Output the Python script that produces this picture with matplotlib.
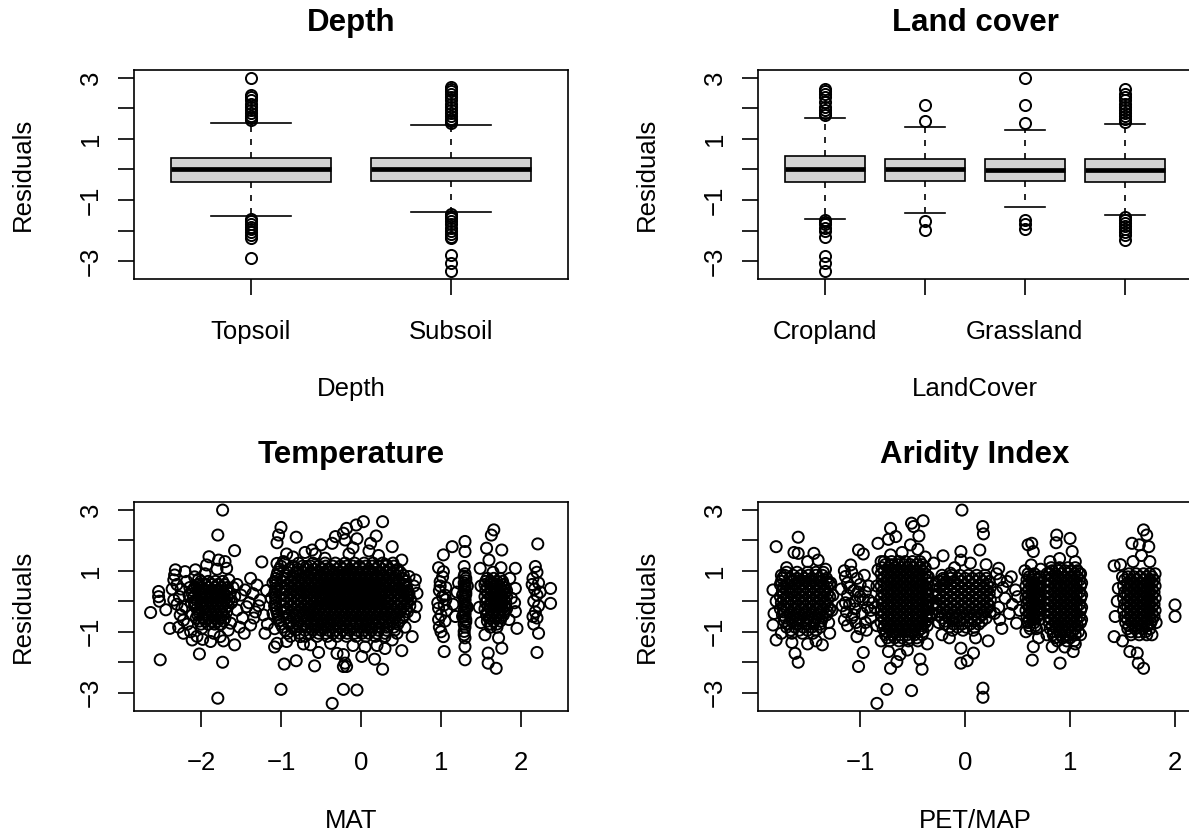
import matplotlib
matplotlib.use("Agg")
import matplotlib.pyplot as plt

plt.rcParams['font.family'] = ['Liberation Sans', 'DejaVu Sans']

# ---- boxplot summaries ----
depth_groups = ['Topsoil', 'Subsoil']
depth_q1 = [-0.40, -0.39]
depth_med = [0.01, 0.01]
depth_q3 = [0.37, 0.36]
depth_whislo = [-1.51, -1.40]
depth_whishi = [1.51, 1.44]
depth_fliers = [
    [2.97, 2.42, 2.35, 2.25, 2.15, 2.05, 1.95, 1.85, 1.75, 1.68, 1.62,
     -1.62, -1.70, -1.78, -1.87, -1.95, -2.05, -2.15, -2.25, -2.90],
    [2.69, 2.62, 2.55, 2.45, 2.35, 2.25, 2.15, 2.05, 1.95, 1.85, 1.75, 1.65, 1.58, 1.52,
     -1.45, -1.52, -1.60, -1.70, -1.80, -1.90, -2.00, -2.10, -2.20, -2.25, -2.79, -3.07, -3.31],
]

land_groups = ['Cropland', '', 'Grassland', '']
land_q1 = [-0.41, -0.37, -0.37, -0.41]
land_med = [0.00, 0.02, -0.03, -0.02]
land_q3 = [0.44, 0.35, 0.34, 0.34]
land_whislo = [-1.63, -1.41, -1.22, -1.50]
land_whishi = [1.67, 1.39, 1.28, 1.47]
land_fliers = [
    [2.64, 2.55, 2.45, 2.35, 2.20, 2.05, 1.95, 1.85, 1.77,
     -1.65, -1.72, -1.80, -1.90, -2.00, -2.20, -2.83, -3.07, -3.32],
    [2.10, 1.57, -1.69, -1.98],
    [2.97, 2.10, 1.50, -1.65, -1.80, -1.95],
    [2.64, 2.45, 2.35, 2.25, 2.15, 2.05, 1.95, 1.85, 1.75, 1.65, 1.55,
     -1.55, -1.65, -1.75, -1.85, -1.95, -2.05, -2.15, -2.30],
]

# ---- residuals vs MAT (scattered points, then dense cores as rows) ----
mat_points = [
    (-2.63, -0.37), (-2.53, 0.32), (-2.53, 0.15), (-2.52, 0.0), (-2.44, -0.28), (-2.39, -0.89),
    (-2.51, -1.92), (-2.32, 1.03), (-2.34, 0.70), (-2.33, 0.86), (-2.30, 0.55), (-2.36, 0.40),
    (-2.34, 0.04), (-2.30, -0.10), (-2.26, -0.45), (-2.22, -0.62), (-2.22, -1.05), (-2.13, -1.00),
    (-2.11, -1.27), (-2.20, 0.97), (-2.07, 1.03), (-2.05, 0.53), (-2.20, -0.18), (-2.11, -0.45),
    (-1.90, 1.46), (-1.93, 1.19), (-1.78, 1.35), (-1.70, 1.30), (-1.68, 1.08), (-1.80, 1.05),
    (-1.58, 1.66), (-1.99, -0.89), (-1.88, -1.32), (-1.76, -1.16), (-1.84, -1.05), (-1.63, -0.72),
    (-1.65, 0.70), (-1.55, -0.29), (-1.45, 0.37), (-1.43, -0.18), (-1.38, -0.78), (-1.30, 0.53),
    (-1.26, 0.04), (-1.22, -0.45), (-1.20, -1.05), (-1.24, 1.29), (-2.02, -1.73), (-1.73, -2.00),
    (-1.79, -3.18), (-1.58, -1.43), (-1.73, 2.99), (-1.79, 2.17), (-1.50, 0.20), (-1.40, -0.05),
    (-1.35, 0.25), (-1.48, -0.55), (-1.32, -0.35), (-1.60, 0.45), (-1.62, -0.05), (-1.58, 0.15),
    (-2.15, 0.20), (-2.25, 0.40), (-2.18, 0.65), (-2.08, 0.80), (-2.28, -0.85), (-2.05, -1.15),
    (-1.95, 0.90), (-1.98, -1.25), (-1.72, -1.30), (-1.66, -0.95), (-2.27, 0.15), (-2.24, -0.25),
    (-2.17, -0.75), (-2.14, 0.45), (-2.12, -0.05), (-2.03, 0.72), (-1.55, 0.55), (-1.52, -0.85),
    (-1.46, -1.05), (-1.38, 0.75), (-1.34, -0.55), (-1.28, -0.15), (-1.18, 0.35), (-1.17, -0.75),
    (-1.05, 1.24), (-0.97, 1.30), (-1.00, 2.42), (-1.03, 2.17), (-1.05, 1.92), (-0.81, 2.10),
    (-0.80, 0.97), (-0.68, 1.14), (-0.61, 1.68), (-0.57, 1.55), (-0.45, 1.41), (-0.36, 1.90),
    (-0.32, 2.12), (-0.22, 2.23), (-0.18, 2.39), (-0.20, 2.01), (-0.06, 2.50), (0.03, 2.61),
    (0.27, 2.61), (0.19, 2.14), (0.39, 1.79), (0.51, 1.35), (0.32, 1.19), (0.60, 0.81),
    (0.68, 0.70), (0.66, 0.50), (0.70, 0.26), (0.69, -0.18), (0.67, -0.50), (0.64, -1.16),
    (0.51, -1.62), (0.39, -1.27), (0.27, -2.23), (0.17, -1.90), (0.01, -1.81), (-0.18, -2.14),
    (-0.22, -1.75), (-0.22, -2.89), (-0.05, -2.91), (-0.36, -3.35), (-0.22, -2.14), (-0.53, -1.68),
    (-0.58, -2.12), (-0.81, -1.95), (-0.96, -2.06), (-1.00, -2.89), (-1.05, -1.38), (-1.08, -1.50),
    (-0.93, -1.32), (-0.76, -1.16), (-0.72, -1.40), (-0.63, -1.43), (-0.38, -1.38), (-0.30, -1.71),
    (-0.20, -2.03), (-1.10, 0.60), (-1.12, 0.10), (-1.10, -0.40), (-1.08, -0.90), (-0.93, 1.55),
    (-0.85, 1.45), (-0.10, 1.75), (0.10, 1.65), (0.22, 1.50), (0.45, 1.00), (0.55, -0.85),
    (0.45, -1.05), (0.20, -1.45), (0.05, -1.50), (-0.10, -1.45), (0.30, -1.55), (0.58, 0.25),
    (0.55, 0.55), (-0.50, 1.85), (-0.05, 2.05), (0.12, 1.90), (-0.15, 1.55), (-0.70, 1.60),
    (1.03, 1.52), (1.14, 1.79), (1.03, 0.97), (0.99, 0.64), (0.97, -0.23), (1.03, -1.16),
    (1.04, -1.65), (0.98, 0.35), (1.02, 0.15), (0.96, -0.05), (1.00, -0.45), (1.05, -0.65),
    (0.98, -0.85), (1.02, 0.80), (1.06, 0.45), (1.00, -1.00), (1.05, 0.20), (0.97, 1.10),
    (1.07, -0.30), (1.30, 1.96), (1.30, 1.63), (1.29, 1.14), (1.30, -1.49), (1.30, -1.92),
    (1.29, -0.99), (1.30, 0.90), (1.31, 0.75), (1.29, 0.60), (1.30, 0.45), (1.31, 0.30),
    (1.29, 0.15), (1.30, 0.00), (1.31, -0.15), (1.29, -0.30), (1.30, -0.45), (1.31, -0.60),
    (1.29, -0.75), (1.30, -1.20), (1.27, 0.20), (1.33, -0.20), (1.27, -0.50), (1.33, 0.50),
    (1.20, 0.30), (1.15, -0.10), (1.18, -0.50), (1.22, 0.60), (1.29, 0.82), (1.31, 0.67),
    (1.30, 0.52), (1.29, 0.37), (1.31, 0.22), (1.30, 0.07), (1.29, -0.08), (1.31, -0.23),
    (1.30, -0.38), (1.29, -0.52), (1.31, -0.68), (1.30, -0.85), (1.29, -1.10), (0.99, 0.50),
    (1.04, -0.12), (0.97, -0.60), (1.06, 0.05),
    (1.66, 2.34), (1.63, 2.17), (1.76, 1.68), (1.57, 1.74), (1.60, 1.35), (1.49, 1.08),
    (1.93, 1.08), (1.59, -1.70), (1.59, -2.03), (1.69, -2.20), (1.76, -1.54), (1.95, -0.89),
    (1.93, 0.42), (1.93, -0.34), (1.50, 0.50), (1.48, -0.20), (1.50, -0.70), (1.55, -1.10),
    (1.72, -1.20), (1.85, -0.60), (1.88, 0.10), (1.86, 0.75), (1.75, 1.10), (1.65, 0.95),
    (1.92, -0.05),
    (2.21, 1.88), (2.18, 1.14), (2.20, 0.95), (2.15, 0.75), (2.22, 0.60), (2.17, 0.40),
    (2.20, 0.20), (2.16, 0.00), (2.22, -0.15), (2.18, -0.35), (2.20, -0.55), (2.16, -0.75),
    (2.22, -1.05), (2.20, -1.68), (2.37, 0.42), (2.37, -0.07), (2.14, 0.55), (2.24, 0.30),
    (2.15, -0.50),
]
mat_core_rows = [
    (0.65, [-2.0, -1.91, -1.82, -1.73]),
    (0.55, [-2.03, -1.95, -1.86, -1.79, -1.71]),
    (0.45, [-2.08, -1.99, -1.9, -1.83, -1.75, -1.67]),
    (0.35, [-2.1, -2.04, -1.97, -1.9, -1.82, -1.75, -1.68]),
    (0.25, [-2.11, -2.02, -1.94, -1.86, -1.79, -1.71, -1.64]),
    (0.15, [-2.09, -2.01, -1.93, -1.87, -1.8, -1.74, -1.67]),
    (0.05, [-2.06, -1.97, -1.9, -1.84, -1.77, -1.7, -1.65]),
    (-0.05, [-2.08, -2.0, -1.93, -1.87, -1.8, -1.74, -1.68]),
    (-0.15, [-2.08, -1.99, -1.92, -1.85, -1.79, -1.73, -1.66]),
    (-0.25, [-2.05, -1.96, -1.9, -1.83, -1.77, -1.7]),
    (-0.35, [-2.03, -1.94, -1.88, -1.81, -1.74, -1.68]),
    (-0.45, [-2.04, -1.95, -1.86, -1.8, -1.73]),
    (-0.55, [-2.06, -1.97, -1.9, -1.83, -1.77, -1.7]),
    (-0.65, [-2.02, -1.94, -1.86, -1.79, -1.72]),
    (-0.75, [-2.0, -1.91, -1.83, -1.75]),
    (1.25, [-0.95, -0.78, -0.6, -0.45, -0.32, -0.2, -0.08, 0.04, 0.15, 0.27, 0.4]),
    (1.15, [-1.0, -0.85, -0.73, -0.63, -0.53, -0.44, -0.35, -0.26, -0.18, -0.1, -0.02, 0.06,
            0.14, 0.22, 0.31, 0.41]),
    (1.05, [-1.02, -0.9, -0.79, -0.68, -0.58, -0.48, -0.39, -0.3, -0.22, -0.14, -0.06, 0.02,
            0.1, 0.18, 0.27, 0.36, 0.46]),
    (0.95, [-1.04, -0.92, -0.81, -0.72, -0.63, -0.55, -0.47, -0.4, -0.33, -0.26, -0.19, -0.12,
            -0.05, 0.02, 0.09, 0.16, 0.24, 0.32, 0.4, 0.49]),
    (0.85, [-1.05, -0.95, -0.85, -0.76, -0.67, -0.59, -0.51, -0.43, -0.36, -0.29, -0.22, -0.15,
            -0.08, -0.01, 0.06, 0.13, 0.2, 0.28, 0.36, 0.44, 0.53]),
    (0.75, [-1.06, -0.93, -0.84, -0.75, -0.66, -0.58, -0.5, -0.43, -0.36, -0.29, -0.22, -0.15,
            -0.08, -0.01, 0.06, 0.13, 0.2, 0.27, 0.35, 0.43, 0.52]),
    (0.65, [-1.07, -0.97, -0.88, -0.79, -0.7, -0.62, -0.54, -0.46, -0.39, -0.32, -0.25, -0.18,
            -0.11, -0.04, 0.03, 0.1, 0.17, 0.24, 0.31, 0.39, 0.47, 0.56]),
    (0.55, [-1.06, -0.92, -0.83, -0.74, -0.66, -0.58, -0.5, -0.43, -0.36, -0.29, -0.22, -0.15,
            -0.08, -0.01, 0.06, 0.13, 0.2, 0.28, 0.36, 0.44, 0.53]),
    (0.45, [-1.05, -0.95, -0.86, -0.77, -0.69, -0.61, -0.53, -0.46, -0.39, -0.32, -0.25, -0.18,
            -0.11, -0.04, 0.03, 0.1, 0.17, 0.24, 0.32, 0.4, 0.48, 0.57]),
    (0.35, [-1.07, -0.94, -0.85, -0.76, -0.68, -0.6, -0.52, -0.45, -0.38, -0.31, -0.24, -0.17,
            -0.1, -0.03, 0.05, 0.12, 0.19, 0.26, 0.34, 0.42, 0.5, 0.58]),
    (0.25, [-1.08, -0.98, -0.89, -0.8, -0.72, -0.64, -0.56, -0.48, -0.41, -0.34, -0.27, -0.2,
            -0.13, -0.06, 0.01, 0.08, 0.15, 0.22, 0.29, 0.37, 0.45, 0.53, 0.6]),
    (0.15, [-1.07, -0.93, -0.84, -0.75, -0.67, -0.59, -0.51, -0.44, -0.37, -0.3, -0.23, -0.16,
            -0.09, -0.02, 0.05, 0.12, 0.19, 0.26, 0.34, 0.42, 0.5, 0.59]),
    (0.05, [-1.06, -0.96, -0.87, -0.78, -0.7, -0.62, -0.55, -0.47, -0.4, -0.33, -0.26, -0.19,
            -0.12, -0.05, 0.02, 0.09, 0.16, 0.23, 0.3, 0.38, 0.46, 0.55, 0.62]),
    (-0.05, [-1.07, -0.93, -0.84, -0.75, -0.67, -0.59, -0.52, -0.44, -0.37, -0.3, -0.23, -0.16,
             -0.09, -0.02, 0.05, 0.12, 0.19, 0.26, 0.34, 0.42, 0.5, 0.58]),
    (-0.15, [-1.08, -0.98, -0.88, -0.79, -0.71, -0.63, -0.55, -0.48, -0.41, -0.34, -0.27, -0.2,
             -0.13, -0.06, 0.01, 0.08, 0.15, 0.22, 0.29, 0.37, 0.45, 0.54, 0.61]),
    (-0.25, [-1.06, -0.93, -0.83, -0.74, -0.66, -0.58, -0.51, -0.44, -0.37, -0.3, -0.23, -0.16,
             -0.09, -0.02, 0.05, 0.12, 0.19, 0.26, 0.33, 0.41, 0.5, 0.57]),
    (-0.35, [-1.05, -0.95, -0.86, -0.77, -0.69, -0.61, -0.53, -0.46, -0.39, -0.32, -0.25, -0.18,
             -0.11, -0.04, 0.03, 0.1, 0.17, 0.24, 0.32, 0.4, 0.49, 0.58]),
    (-0.45, [-1.04, -0.9, -0.81, -0.72, -0.64, -0.56, -0.49, -0.42, -0.35, -0.28, -0.21, -0.14,
             -0.07, 0.0, 0.07, 0.14, 0.21, 0.29, 0.37, 0.45, 0.54]),
    (-0.55, [-1.03, -0.93, -0.84, -0.75, -0.67, -0.59, -0.52, -0.45, -0.38, -0.31, -0.24, -0.17,
             -0.1, -0.03, 0.04, 0.11, 0.18, 0.26, 0.34, 0.43, 0.52]),
    (-0.65, [-1.02, -0.88, -0.79, -0.7, -0.62, -0.55, -0.48, -0.41, -0.34, -0.27, -0.2, -0.13,
             -0.06, 0.01, 0.08, 0.15, 0.22, 0.3, 0.39, 0.48]),
    (-0.75, [-1.0, -0.9, -0.8, -0.71, -0.62, -0.54, -0.46, -0.38, -0.3, -0.22, -0.14, -0.06,
             0.02, 0.1, 0.18, 0.27, 0.36, 0.46]),
    (-0.85, [-0.98, -0.86, -0.76, -0.67, -0.58, -0.5, -0.42, -0.34, -0.26, -0.18, -0.1, -0.02,
             0.06, 0.14, 0.23, 0.32, 0.41]),
    (-0.95, [-0.95, -0.82, -0.7, -0.6, -0.5, -0.41, -0.32, -0.23, -0.14, -0.05, 0.04, 0.13,
             0.22, 0.32, 0.42]),
    (-1.05, [-0.92, -0.77, -0.64, -0.53, -0.44, -0.35, -0.26, -0.17, -0.08, 0.01, 0.1, 0.2, 0.3]),
    (-1.15, [-0.88, -0.7, -0.55, -0.42, -0.3, -0.18, -0.06, 0.06, 0.18, 0.3]),
    (0.75, [1.58, 1.66, 1.74]),
    (0.65, [1.56, 1.62, 1.7, 1.77]),
    (0.55, [1.55, 1.62, 1.7, 1.78]),
    (0.45, [1.58, 1.66, 1.74, 1.8]),
    (0.35, [1.56, 1.63, 1.7, 1.77, 1.82]),
    (0.25, [1.59, 1.66, 1.73, 1.8]),
    (0.15, [1.55, 1.62, 1.69, 1.76, 1.82]),
    (0.05, [1.58, 1.66, 1.73, 1.79]),
    (-0.05, [1.56, 1.63, 1.7, 1.77, 1.81]),
    (-0.15, [1.59, 1.66, 1.73, 1.8]),
    (-0.25, [1.55, 1.62, 1.69, 1.76, 1.82]),
    (-0.35, [1.58, 1.66, 1.73, 1.79]),
    (-0.45, [1.57, 1.64, 1.71, 1.78]),
    (-0.55, [1.6, 1.68, 1.75]),
    (-0.65, [1.58, 1.66, 1.74]),
    (-0.75, [1.62, 1.7]),
    (-0.85, [1.62, 1.7]),
]

# ---- residuals vs PET/MAP ----
pet_points = [
    (-1.80, 1.79), (-1.59, 2.10), (-1.59, 1.57), (-1.63, 1.60), (-1.44, 1.57), (-1.83, 0.37),
    (-1.83, -0.78), (-1.80, -1.27), (-1.62, -1.71), (-1.59, -2.00), (-1.36, -1.43), (-1.29, -1.05),
    (-1.70, 1.10), (-1.50, 1.30), (-1.40, 1.35), (-1.33, 1.05), (-1.28, 0.60), (-1.26, 0.20),
    (-1.27, -0.30), (-1.30, -0.70), (-1.75, 0.85), (-1.80, 0.00), (-1.82, -0.40), (-1.75, -1.05),
    (-1.65, -1.35), (-1.50, -1.40), (-1.42, -1.30),
    (-1.015, 1.68), (-0.97, 1.55), (-1.09, 1.19), (-1.14, 0.81), (-1.00, 0.55), (-0.92, 0.04),
    (-1.15, -0.61), (-1.03, -1.16), (-0.97, -1.68), (-1.015, -2.14), (-1.18, 0.40), (-1.12, 0.20),
    (-1.06, 0.35), (-1.00, 0.15), (-0.95, 0.30), (-1.10, -0.10), (-1.05, -0.25), (-0.98, -0.40),
    (-0.90, -0.30), (-1.13, -0.35), (-1.08, -0.55), (-0.95, -0.70), (-1.12, 0.60), (-0.92, 0.50),
    (-0.88, -0.05), (-1.05, 0.00), (-1.00, -0.90), (-1.17, -0.15), (-0.90, -0.55), (-1.08, 0.95),
    (-1.15, 1.00), (-1.03, 0.75), (-0.96, 0.85), (-1.10, 0.45), (-1.02, 0.30), (-0.97, 0.05),
    (-1.14, -0.05), (-1.06, -0.45), (-0.93, -0.20), (-1.12, -0.80), (-1.04, -0.70), (-0.94, -0.95),
    (-0.71, 2.39), (-0.73, 2.03), (-0.83, 1.90), (-0.66, 2.12), (-0.51, 2.56), (-0.49, 2.45),
    (-0.40, 2.64), (-0.44, 2.14), (-0.52, 1.85), (-0.71, 1.52), (-0.83, 1.03), (-0.71, -2.20),
    (-0.65, -1.98), (-0.41, -2.23), (-0.43, -1.90), (-0.73, -1.65), (-0.80, -1.30), (-0.84, -3.35),
    (-0.745, -2.89), (-0.51, -2.93), (-0.60, 1.60), (-0.45, 1.70), (-0.38, 1.45), (-0.80, 1.30),
    (-0.36, -1.40), (-0.55, -1.60), (-0.62, -1.75), (-0.84, 0.50), (-0.86, -0.20), (-0.84, -0.80),
    (-0.35, 0.80), (-0.34, -0.50),
    (-0.21, 1.49), (-0.30, 1.25), (-0.14, 0.92), (-0.04, 1.63), (-0.04, 1.35), (-0.03, 2.99),
    (-0.04, -1.54), (-0.04, -2.03), (0.02, -1.95), (-0.32, -0.40), (-0.22, -1.10), (0.168, 2.45),
    (0.175, 2.21), (0.14, 1.68), (0.32, 1.08), (0.08, -1.70), (0.17, -2.85), (0.17, -3.15),
    (-0.30, 0.50), (-0.28, 0.20), (-0.25, -0.70), (-0.15, -1.20), (-0.10, 1.10), (0.05, 1.25),
    (0.20, 1.20), (0.22, -1.30), (0.10, -1.20), (-0.30, -0.10), (-0.20, 0.70),
    (0.33, 0.70), (0.40, 0.65), (0.48, 0.37), (0.49, -0.72), (0.35, -0.89), (0.33, -0.60),
    (0.30, 0.30), (0.38, 0.10), (0.45, -0.10), (0.32, -0.20), (0.42, -0.40), (0.50, 0.15),
    (0.36, 0.45), (0.28, -0.40), (0.52, -0.30), (0.44, 0.80), (0.30, 0.90),
    (0.60, 1.85), (0.635, 1.90), (0.65, 1.63), (0.63, 1.19), (0.65, -1.49), (0.64, -1.93),
    (0.70, -1.20), (0.58, -1.00), (0.57, 1.00), (0.72, 1.05),
    (0.873, 2.17), (0.867, 1.92), (1.00, 2.06), (1.02, 1.63), (1.05, 1.30), (0.81, 1.30),
    (0.905, -2.03), (1.03, -1.65), (0.83, -1.49), (1.05, -1.40), (0.95, -1.50), (1.10, -1.10),
    (0.78, -1.10), (0.90, 1.40), (0.78, 0.90), (1.10, 0.90),
    (1.70, 2.34), (1.73, 2.17), (1.59, 1.90), (1.66, 1.85), (1.75, 1.79), (1.76, 1.30),
    (1.42, 1.16), (1.48, 1.20), (1.46, 0.42), (1.42, -1.16), (1.57, -1.65), (1.64, -1.70),
    (1.65, -2.03), (1.70, -2.20), (1.78, -1.10), (1.45, 0.00), (1.43, -0.50), (1.50, 0.80),
    (1.60, 1.30), (1.68, 1.50), (1.81, 0.90), (1.82, -0.70), (1.50, -1.30),
    (2.00, -0.12), (2.00, -0.50),
]
pet_core_rows = [
    (0.95, [-1.7, -1.6, -1.5, -1.42, -1.35]),
    (0.85, [-1.72, -1.64, -1.56, -1.49, -1.42, -1.36]),
    (0.75, [-1.74, -1.67, -1.6, -1.53, -1.46, -1.39, -1.32]),
    (0.65, [-1.75, -1.66, -1.59, -1.52, -1.45, -1.38, -1.31]),
    (0.55, [-1.76, -1.7, -1.63, -1.56, -1.49, -1.42, -1.35, -1.29]),
    (0.45, [-1.73, -1.66, -1.59, -1.52, -1.45, -1.38, -1.31]),
    (0.35, [-1.74, -1.67, -1.61, -1.54, -1.47, -1.4, -1.33]),
    (0.25, [-1.73, -1.66, -1.59, -1.52, -1.45, -1.38, -1.31]),
    (0.15, [-1.76, -1.7, -1.63, -1.56, -1.49, -1.42, -1.35, -1.29]),
    (0.05, [-1.73, -1.66, -1.59, -1.52, -1.45, -1.38, -1.31]),
    (-0.05, [-1.75, -1.68, -1.61, -1.54, -1.47, -1.4, -1.33]),
    (-0.15, [-1.73, -1.66, -1.59, -1.52, -1.45, -1.38, -1.31]),
    (-0.25, [-1.76, -1.7, -1.63, -1.56, -1.49, -1.42, -1.35, -1.29]),
    (-0.35, [-1.73, -1.66, -1.59, -1.52, -1.45, -1.38, -1.31]),
    (-0.45, [-1.74, -1.67, -1.6, -1.53, -1.46, -1.39, -1.32]),
    (-0.55, [-1.71, -1.64, -1.57, -1.5, -1.43, -1.36]),
    (-0.65, [-1.72, -1.65, -1.58, -1.51, -1.44, -1.37]),
    (-0.75, [-1.68, -1.6, -1.52, -1.44, -1.38]),
    (-0.85, [-1.7, -1.62, -1.54, -1.46, -1.38]),
    (-0.95, [-1.66, -1.58, -1.5, -1.42]),
    (-1.05, [-1.65, -1.55, -1.45]),
    (1.3, [-0.77, -0.7, -0.63, -0.57, -0.5, -0.43]),
    (1.2, [-0.76, -0.7, -0.64, -0.58, -0.52, -0.46, -0.41]),
    (1.1, [-0.79, -0.73, -0.67, -0.61, -0.55, -0.49, -0.43, -0.38]),
    (1.0, [-0.77, -0.71, -0.65, -0.59, -0.53, -0.47, -0.41]),
    (0.9, [-0.8, -0.74, -0.68, -0.62, -0.56, -0.5, -0.44, -0.38]),
    (0.8, [-0.77, -0.71, -0.65, -0.59, -0.53, -0.47, -0.41, -0.36]),
    (0.7, [-0.79, -0.73, -0.67, -0.61, -0.55, -0.49, -0.43, -0.37]),
    (0.6, [-0.77, -0.71, -0.65, -0.59, -0.53, -0.47, -0.41, -0.36]),
    (0.5, [-0.8, -0.74, -0.68, -0.62, -0.56, -0.5, -0.44, -0.38]),
    (0.4, [-0.77, -0.71, -0.65, -0.59, -0.53, -0.47, -0.41, -0.36]),
    (0.3, [-0.79, -0.73, -0.67, -0.61, -0.55, -0.49, -0.43, -0.37]),
    (0.2, [-0.77, -0.71, -0.65, -0.59, -0.53, -0.47, -0.41, -0.36]),
    (0.1, [-0.8, -0.74, -0.68, -0.62, -0.56, -0.5, -0.44, -0.38]),
    (0.0, [-0.77, -0.71, -0.65, -0.59, -0.53, -0.47, -0.41, -0.36]),
    (-0.1, [-0.79, -0.73, -0.67, -0.61, -0.55, -0.49, -0.43, -0.37]),
    (-0.2, [-0.77, -0.71, -0.65, -0.59, -0.53, -0.47, -0.41, -0.36]),
    (-0.3, [-0.8, -0.74, -0.68, -0.62, -0.56, -0.5, -0.44, -0.38]),
    (-0.4, [-0.77, -0.71, -0.65, -0.59, -0.53, -0.47, -0.41, -0.36]),
    (-0.5, [-0.79, -0.73, -0.67, -0.61, -0.55, -0.49, -0.43, -0.37]),
    (-0.6, [-0.77, -0.71, -0.65, -0.59, -0.53, -0.47, -0.41, -0.36]),
    (-0.7, [-0.8, -0.74, -0.68, -0.62, -0.56, -0.5, -0.44, -0.38]),
    (-0.8, [-0.77, -0.71, -0.65, -0.59, -0.53, -0.47, -0.41, -0.36]),
    (-0.9, [-0.78, -0.72, -0.66, -0.6, -0.54, -0.48, -0.42]),
    (-1.0, [-0.75, -0.69, -0.63, -0.57, -0.51, -0.45, -0.4]),
    (-1.1, [-0.76, -0.69, -0.62, -0.55, -0.48, -0.41]),
    (-1.2, [-0.74, -0.67, -0.6, -0.53, -0.46]),
    (-1.3, [-0.72, -0.63, -0.54, -0.45]),
    (0.85, [-0.22, -0.13, -0.05, 0.03, 0.11, 0.19]),
    (0.75, [-0.21, -0.14, -0.07, 0.0, 0.07, 0.14, 0.2]),
    (0.65, [-0.25, -0.18, -0.11, -0.04, 0.03, 0.1, 0.17, 0.23]),
    (0.55, [-0.28, -0.21, -0.14, -0.07, 0.0, 0.07, 0.14, 0.21]),
    (0.45, [-0.24, -0.17, -0.1, -0.03, 0.04, 0.11, 0.18, 0.24]),
    (0.35, [-0.28, -0.21, -0.14, -0.07, 0.0, 0.07, 0.14, 0.21]),
    (0.25, [-0.25, -0.18, -0.11, -0.04, 0.03, 0.1, 0.17, 0.23]),
    (0.15, [-0.28, -0.21, -0.14, -0.07, 0.0, 0.07, 0.14, 0.21]),
    (0.05, [-0.24, -0.17, -0.1, -0.03, 0.04, 0.11, 0.18, 0.24]),
    (-0.05, [-0.28, -0.21, -0.14, -0.07, 0.0, 0.07, 0.14, 0.21]),
    (-0.15, [-0.25, -0.18, -0.11, -0.04, 0.03, 0.1, 0.17, 0.23]),
    (-0.25, [-0.28, -0.21, -0.14, -0.07, 0.0, 0.07, 0.14, 0.21]),
    (-0.35, [-0.24, -0.17, -0.1, -0.03, 0.04, 0.11, 0.18, 0.24]),
    (-0.45, [-0.26, -0.19, -0.12, -0.05, 0.02, 0.09, 0.16]),
    (-0.55, [-0.22, -0.15, -0.08, -0.01, 0.06, 0.13, 0.2]),
    (-0.65, [-0.19, -0.12, -0.05, 0.02, 0.09, 0.16]),
    (-0.75, [-0.19, -0.11, -0.03, 0.05, 0.13]),
    (-0.85, [-0.15, -0.07, 0.01, 0.09]),
    (-0.95, [-0.12, -0.02, 0.08]),
    (0.9, [0.6, 0.66]),
    (0.8, [0.61, 0.66, 0.71]),
    (0.7, [0.59, 0.64, 0.69]),
    (0.6, [0.61, 0.66, 0.71]),
    (0.5, [0.58, 0.63, 0.68, 0.72]),
    (0.4, [0.61, 0.66, 0.71]),
    (0.3, [0.59, 0.64, 0.69]),
    (0.2, [0.61, 0.66, 0.71]),
    (0.1, [0.58, 0.63, 0.68, 0.72]),
    (0.0, [0.61, 0.66, 0.71]),
    (-0.1, [0.59, 0.64, 0.69]),
    (-0.2, [0.61, 0.66, 0.71]),
    (-0.3, [0.58, 0.63, 0.68, 0.72]),
    (-0.4, [0.61, 0.66, 0.71]),
    (-0.5, [0.59, 0.64, 0.69]),
    (-0.6, [0.61, 0.66, 0.71]),
    (-0.7, [0.6, 0.66]),
    (-0.8, [0.61, 0.67]),
    (-0.9, [0.62, 0.68]),
    (1.1, [0.82, 0.9, 0.98, 1.05]),
    (1.0, [0.83, 0.89, 0.95, 1.01, 1.07]),
    (0.9, [0.8, 0.86, 0.92, 0.98, 1.04, 1.09]),
    (0.8, [0.83, 0.89, 0.95, 1.01, 1.07]),
    (0.7, [0.79, 0.85, 0.91, 0.97, 1.03, 1.09]),
    (0.6, [0.82, 0.88, 0.94, 1.0, 1.06, 1.11]),
    (0.5, [0.8, 0.86, 0.92, 0.98, 1.04, 1.1]),
    (0.4, [0.82, 0.88, 0.94, 1.0, 1.06]),
    (0.3, [0.79, 0.85, 0.91, 0.97, 1.03, 1.09]),
    (0.2, [0.82, 0.88, 0.94, 1.0, 1.06, 1.11]),
    (0.1, [0.8, 0.86, 0.92, 0.98, 1.04, 1.1]),
    (0.0, [0.82, 0.88, 0.94, 1.0, 1.06]),
    (-0.1, [0.79, 0.85, 0.91, 0.97, 1.03, 1.09]),
    (-0.2, [0.82, 0.88, 0.94, 1.0, 1.06, 1.11]),
    (-0.3, [0.8, 0.86, 0.92, 0.98, 1.04, 1.1]),
    (-0.4, [0.82, 0.88, 0.94, 1.0, 1.06]),
    (-0.5, [0.79, 0.85, 0.91, 0.97, 1.03, 1.09]),
    (-0.6, [0.82, 0.88, 0.94, 1.0, 1.06, 1.11]),
    (-0.7, [0.8, 0.86, 0.92, 0.98, 1.04, 1.1]),
    (-0.8, [0.83, 0.89, 0.95, 1.01, 1.07]),
    (-0.9, [0.81, 0.87, 0.93, 0.99, 1.05]),
    (-1.0, [0.84, 0.9, 0.96, 1.02, 1.08]),
    (-1.1, [0.84, 0.91, 0.98, 1.05]),
    (-1.2, [0.86, 0.93, 1.0]),
    (-1.3, [0.88, 0.97, 1.04]),
    (0.9, [1.56, 1.63, 1.7, 1.76]),
    (0.8, [1.55, 1.61, 1.67, 1.73, 1.78]),
    (0.7, [1.52, 1.58, 1.64, 1.7, 1.76, 1.8]),
    (0.6, [1.55, 1.61, 1.67, 1.73, 1.78]),
    (0.5, [1.51, 1.57, 1.63, 1.69, 1.75, 1.81]),
    (0.4, [1.55, 1.61, 1.67, 1.73, 1.78]),
    (0.3, [1.52, 1.58, 1.64, 1.7, 1.76, 1.8]),
    (0.2, [1.55, 1.61, 1.67, 1.73, 1.78]),
    (0.1, [1.51, 1.57, 1.63, 1.69, 1.75, 1.81]),
    (0.0, [1.55, 1.61, 1.67, 1.73, 1.78]),
    (-0.1, [1.52, 1.58, 1.64, 1.7, 1.76, 1.8]),
    (-0.2, [1.55, 1.61, 1.67, 1.73, 1.78]),
    (-0.3, [1.51, 1.57, 1.63, 1.69, 1.75, 1.81]),
    (-0.4, [1.55, 1.61, 1.67, 1.73, 1.78]),
    (-0.5, [1.52, 1.58, 1.64, 1.7, 1.76, 1.8]),
    (-0.6, [1.55, 1.61, 1.67, 1.73, 1.78]),
    (-0.7, [1.53, 1.59, 1.65, 1.71, 1.77]),
    (-0.8, [1.56, 1.62, 1.68, 1.74]),
    (-0.9, [1.55, 1.62, 1.69, 1.76]),
    (-1.0, [1.58, 1.65, 1.72]),
    (-1.1, [1.58, 1.66, 1.73]),
]

y_ticks = [-3, -2, -1, 0, 1, 2, 3]
y_labels = ['\u22123', '', '\u22121', '', '1', '', '3']
ylim = (-3.59, 3.245)

W, H = 1189, 839
LW = 1.4
MS = 8.0


def axes_at(fig, left, top, width, height):
    return fig.add_axes([left / W, 1 - (top + height) / H, width / W, height / H])


def style(ax, title, xlabel, xticks, xticklabels, xlim):
    ax.set_xlim(xlim)
    ax.set_ylim(ylim)
    ax.set_xticks(xticks)
    ax.set_xticklabels(xticklabels)
    ax.set_yticks(y_ticks)
    ax.set_yticklabels(y_labels, rotation=90, va='center')
    ax.tick_params(axis='both', direction='out', length=11.5, width=1.2, labelsize=18.5)
    ax.tick_params(axis='x', pad=17.6)
    ax.tick_params(axis='y', pad=11.1)
    for s in ax.spines.values():
        s.set_linewidth(1.2)
    ax.annotate(title, xy=(0.5, 1), xycoords='axes fraction', xytext=(0, 47),
                textcoords='offset pixels', ha='center', va='center',
                fontsize=22.5, fontweight='bold')
    ax.annotate(xlabel, xy=(0.5, 0), xycoords='axes fraction', xytext=(0, -110),
                textcoords='offset pixels', ha='center', va='center', fontsize=18.5)
    ax.annotate('Residuals', xy=(0, 0.5), xycoords='axes fraction', xytext=(-111, 0),
                textcoords='offset pixels', ha='center', va='center', fontsize=18.5,
                rotation=90)


def boxes(ax, q1, med, q3, lo, hi, fliers):
    stats = []
    for i in range(len(med)):
        stats.append({'q1': q1[i], 'med': med[i], 'q3': q3[i],
                      'whislo': lo[i], 'whishi': hi[i], 'fliers': fliers[i]})
    ax.bxp(stats, positions=list(range(1, len(med) + 1)), widths=0.8,
           patch_artist=True, manage_ticks=False,
           boxprops=dict(facecolor='#d3d3d3', edgecolor='black', linewidth=1.2),
           medianprops=dict(color='black', linewidth=3.4, solid_capstyle='butt'),
           whiskerprops=dict(color='black', linewidth=1.2, linestyle=(0, (3.6, 4.2))),
           capprops=dict(color='black', linewidth=1.2),
           flierprops=dict(marker='o', markerfacecolor='none', markeredgecolor='black',
                           markersize=MS, markeredgewidth=LW))


def scatter(ax, points, rows):
    pts = list(points) + [(x, y) for y, xs in rows for x in xs]
    ax.scatter([p[0] for p in pts], [p[1] for p in pts], s=MS ** 2, facecolors='none',
               edgecolors='black', linewidths=LW)


def main():
    fig = plt.figure(figsize=(W / 100, H / 100), dpi=100)

    ax1 = axes_at(fig, 134.3, 70, 433.3, 209.3)
    boxes(ax1, depth_q1, depth_med, depth_q3, depth_whislo, depth_whishi, depth_fliers)
    style(ax1, 'Depth', 'Depth', [1, 2], depth_groups, (0.4165, 2.583))

    ax2 = axes_at(fig, 758.3, 70, 433.3, 209.3)
    boxes(ax2, land_q1, land_med, land_q3, land_whislo, land_whishi, land_fliers)
    style(ax2, 'Land cover', 'LandCover', [1, 2, 3, 4], land_groups, (0.337, 4.666))

    ax3 = axes_at(fig, 134.3, 502.3, 433.3, 208.4)
    scatter(ax3, mat_points, mat_core_rows)
    style(ax3, 'Temperature', 'MAT', [-2, -1, 0, 1, 2],
          ['\u22122', '\u22121', '0', '1', '2'], (-2.834, 2.583))

    ax4 = axes_at(fig, 758.3, 502.3, 433.3, 208.4)
    scatter(ax4, pet_points, pet_core_rows)
    style(ax4, 'Aridity Index', 'PET/MAP', [-1, 0, 1, 2],
          ['\u22121', '0', '1', '2'], (-1.97, 2.158))

    fig.savefig('out.png', dpi=100)


if __name__ == "__main__":
    main()
